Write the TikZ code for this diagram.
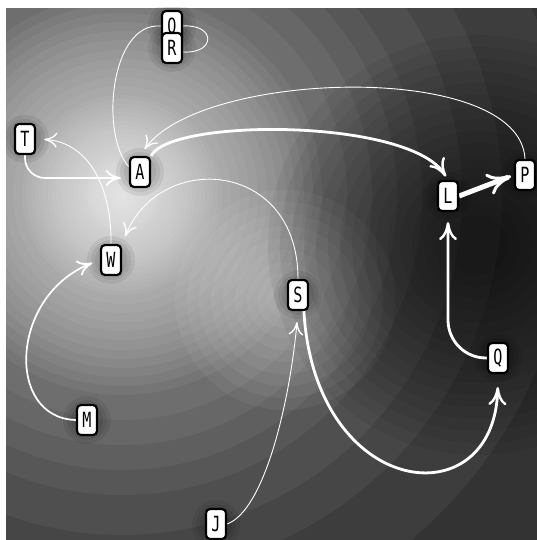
\documentclass[tikz,border=0pt]{standalone}
\usepackage{fontspec}
\newfontfamily\nodefont[FakeStretch=0.72]{DejaVu Sans Mono}
\usetikzlibrary{arrows.meta,calc}
\definecolor{bgbase}{gray}{0.20}
\pgfdeclarelayer{bglayer}
\pgfdeclarelayer{edgelayer}
\pgfsetlayers{bglayer,edgelayer,main}
\tikzset{
  nodebox/.style={draw=black, line width=2.2bp, fill=white, rounded corners=4bp,
    minimum width=20bp, minimum height=30bp, inner sep=0pt, text=black,
    font=\nodefont\fontsize{21}{21}\selectfont},
  plainA/.style={white, line width=0.9bp},
  edgeA/.style={white, line width=0.9bp, shorten >=8bp,
    -{Computer Modern Rightarrow[length=13bp,width=15bp,line width=1.4bp]}},
  edgeB/.style={white, line width=1.7bp, shorten >=8bp,
    -{Computer Modern Rightarrow[length=15bp,width=16bp,line width=1.8bp]}},
  edgeC/.style={white, line width=2.8bp, shorten >=4bp,
    -{Computer Modern Rightarrow[length=18bp,width=18bp,line width=2.4bp]}},
  edgeD/.style={white, line width=5bp, shorten >=3bp,
    -{Computer Modern Rightarrow[length=24bp,width=22bp,line width=3bp]}},
  glowring/.style={white, fill opacity=0.05},
  darkring/.style={black, fill opacity=0.05},
  haloring/.style={black, fill opacity=0.07},
}
\begin{document}
\begin{tikzpicture}[x=1bp,y=-1bp]
\useasboundingbox (0,0) rectangle (537,540);
% nodes
\node[nodebox] (O) at (172,26) {O};
\node[nodebox] (R) at (172,48) {R};
\node[nodebox] (T) at (25,139) {T};
\node[nodebox] (A) at (140,172) {A};
\node[nodebox] (W) at (111,260) {W};
\node[nodebox] (M) at (87,420) {M};
\node[nodebox] (J) at (216,524) {J};
\node[nodebox] (S) at (298,295) {S};
\node[nodebox] (Q) at (498,358) {Q};
\node[nodebox] (L) at (448,196) {L};
\node[nodebox] (P) at (525,175) {P};
% background
\begin{pgfonlayer}{bglayer}
  \begin{scope}
    \clip (6,8) rectangle (537,540);
    \fill[bgbase] (6,8) rectangle (537,540);
    \foreach \r in {450,380,340,300,275,250,225,200,191,182,173,164,155,145,136,127,118,109,100,96,91,87,83,79,74,70,66,61,57,53,49,44,40,37,35,32,29,27,24,21,19,16,13,11,8,5,3}
      \fill[glowring] (122,195) circle[radius=\r bp];
    \foreach \r in {110,98,86,74,62,50,38,28,18}
      \fill[glowring] (285,300) circle[radius=\r bp];
    \foreach \r in {210,198,186,174,162,150,138,126,114,102,90,78,66,54,42,30}
      \fill[darkring] (478,245) circle[radius=\r bp];
    \foreach \n in {O,R,T,A,W,M,J,S,Q,L,P}
      \foreach \r in {24,20,16}
        \fill[haloring] (\n) circle[radius=\r bp];
  \end{scope}
\end{pgfonlayer}
% edges
\begin{pgfonlayer}{edgelayer}
  \draw[plainA] (O.west) .. controls (110,22) and (100,135) .. (A.155);
  \draw[plainA] (O.east) .. controls (216,24) and (216,54) .. ($(R.east)+(0,4)$);
  \draw[edgeB, rounded corners=20bp] (T.south) |- ($(A.west)+(0,6)$);
  \draw[edgeA] (W.north) .. controls (112,190) and (90,142) .. (T.east);
  \draw[edgeA] (S.north) .. controls (298,160) and (160,150) .. (W.north east);
  \draw[edgeC] (A.north east) .. controls (170,118) and (410,118) .. (L.north);
  \draw[edgeA] (P.north) .. controls (520,60) and (200,70) .. (A.north);
  \draw[edgeD] (L.east) -- (P.west);
  \draw[edgeC, shorten >=10bp, rounded corners=38bp] (Q.west) -| (L.south);
  \draw[edgeC, shorten >=13bp] (S.-70) .. controls (315,500) and (495,520) .. (Q.south);
  \draw[edgeA, shorten >=11bp] (J.east) .. controls (265,510) and (290,400) .. (S.south);
  \draw[edgeB] (M.west) .. controls (5,418) and (10,295) .. (W.west);
\end{pgfonlayer}
\end{tikzpicture}
\end{document}
